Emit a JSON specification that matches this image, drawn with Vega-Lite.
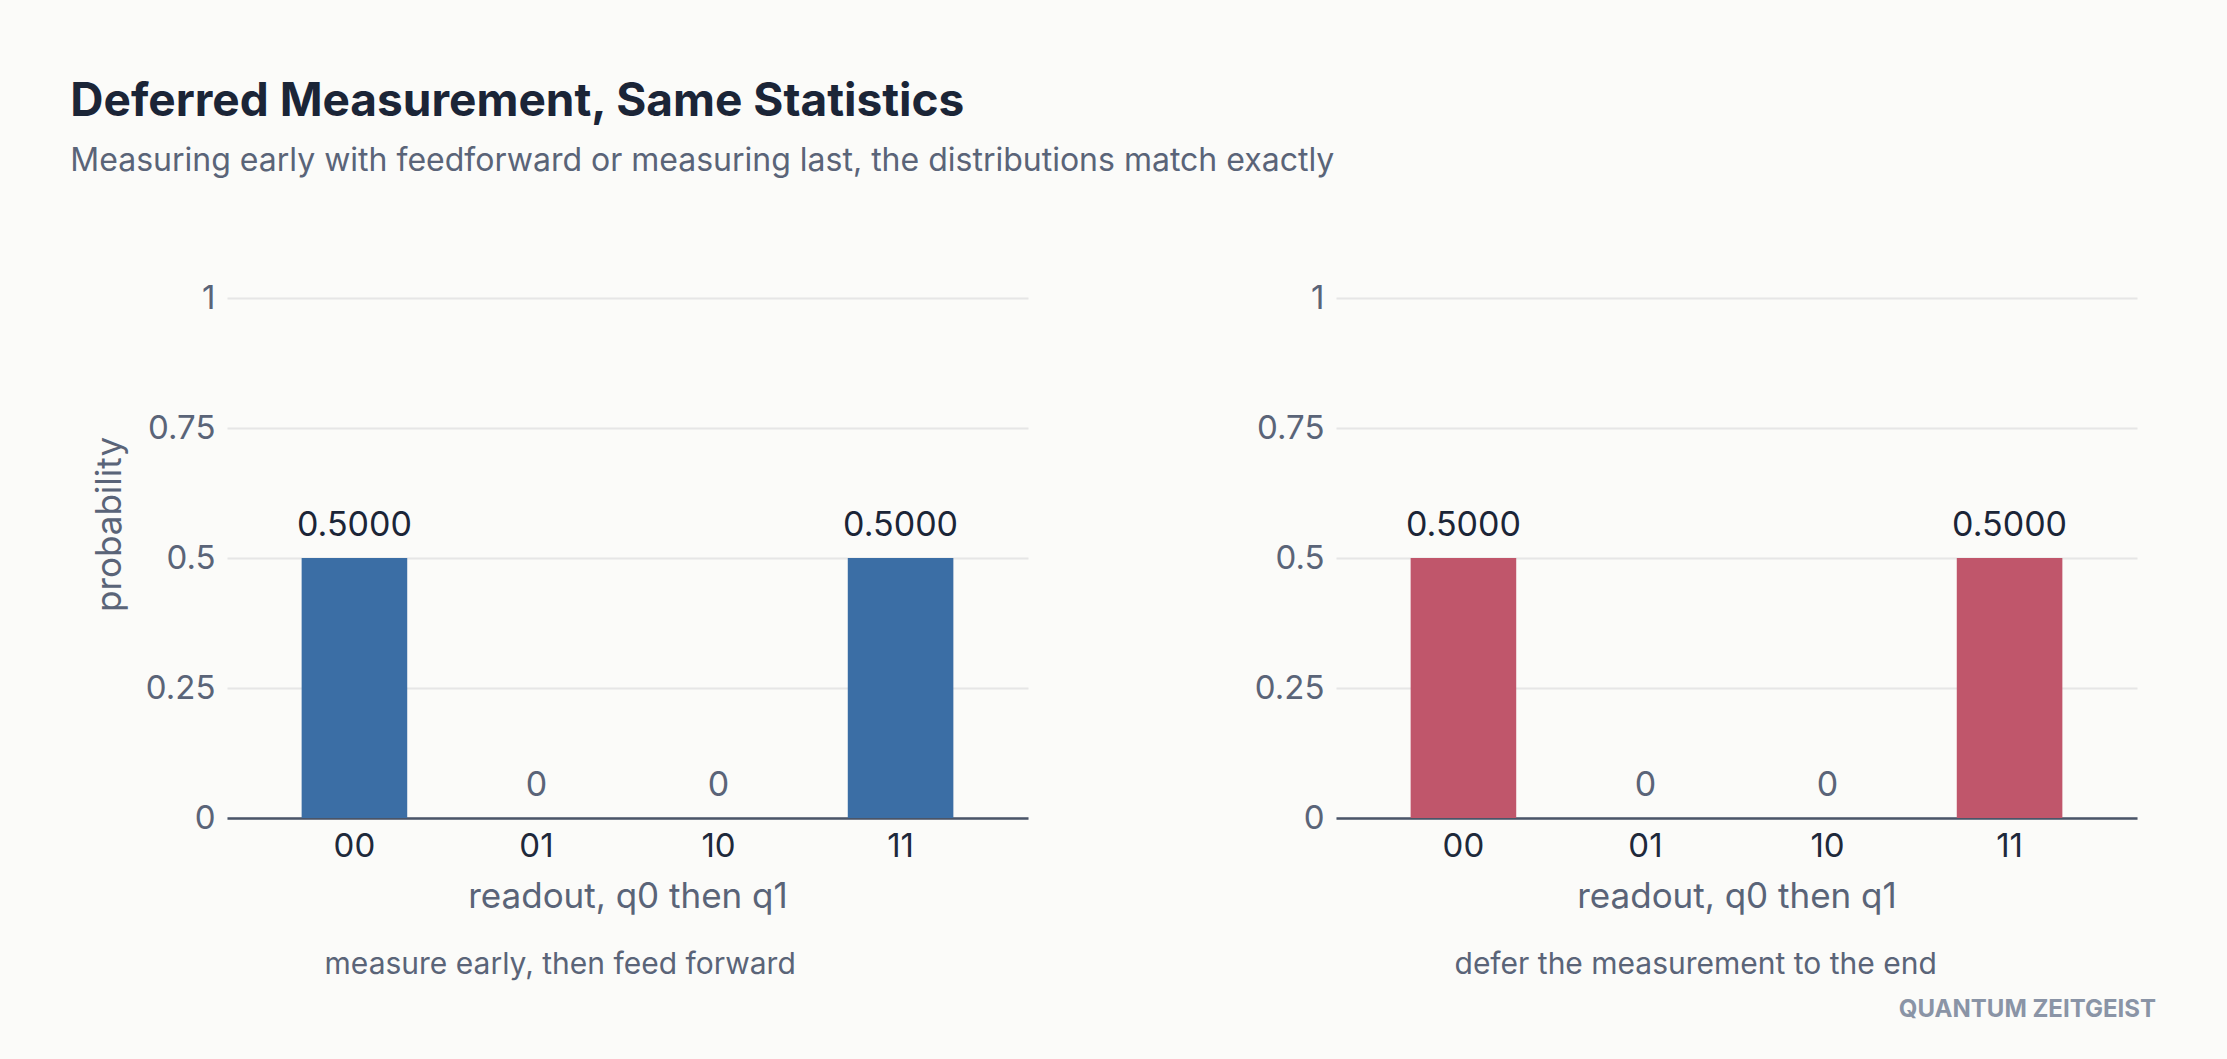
{
  "$schema": "https://vega.github.io/schema/vega-lite/v6.json",
  "background": "#fbfbf9",
  "padding": {"left": 70, "top": 79, "right": 90, "bottom": 45},
  "datasets": {
    "probs": [
      {"method": "early", "state": "00", "p": 0.5},
      {"method": "early", "state": "01", "p": 0},
      {"method": "early", "state": "10", "p": 0},
      {"method": "early", "state": "11", "p": 0.5},
      {"method": "deferred", "state": "00", "p": 0.5},
      {"method": "deferred", "state": "01", "p": 0},
      {"method": "deferred", "state": "10", "p": 0},
      {"method": "deferred", "state": "11", "p": 0.5}
    ],
    "footer": [{"label": "QUANTUM ZEITGEIST"}]
  },
  "title": {
    "text": "Deferred Measurement, Same Statistics",
    "subtitle": "Measuring early with feedforward or measuring last, the distributions match exactly",
    "anchor": "start",
    "font": "Inter",
    "fontSize": 46,
    "fontWeight": 700,
    "color": "#1b2537",
    "subtitleFont": "Inter",
    "subtitleFontSize": 32,
    "subtitleColor": "#5a6478",
    "subtitlePadding": 20,
    "offset": 104,
    "dx": -22
  },
  "config": {
    "view": {"stroke": null},
    "font": "Inter",
    "axis": {
      "labelFont": "Inter",
      "titleFont": "Inter",
      "labelFontSize": 33,
      "titleFontSize": 35,
      "titleFontWeight": 400,
      "titleColor": "#5a6478",
      "ticks": false,
      "tickSize": 0
    },
    "axisX": {
      "domain": true,
      "domainColor": "#4a5568",
      "domainWidth": 2.5,
      "grid": false,
      "labelColor": "#1e293b",
      "labelPadding": 12,
      "titlePadding": 16,
      "labelAngle": 0
    },
    "axisY": {
      "domain": false,
      "grid": true,
      "gridColor": "#e6e6e6",
      "gridWidth": 2,
      "labelColor": "#5a6478",
      "labelPadding": 12,
      "titlePadding": 18
    }
  },
  "vconcat": [
    {
      "hconcat": [
        {
          "width": 801,
          "height": 520,
          "title": {
            "text": "measure early, then feed forward",
            "orient": "bottom",
            "anchor": "middle",
            "frame": "bounds",
            "font": "Inter",
            "fontSize": 30,
            "fontWeight": 400,
            "color": "#5a6478",
            "offset": 36
          },
          "data": {"name": "probs"},
          "transform": [{"filter": "datum.method == 'early'"}],
          "encoding": {
            "x": {
              "field": "state",
              "type": "nominal",
              "sort": ["00", "01", "10", "11"],
              "scale": {"paddingInner": 0.42, "paddingOuter": 0.41},
              "axis": {"title": "readout, q0 then q1"}
            },
            "y": {
              "field": "p",
              "type": "quantitative",
              "scale": {"domain": [0, 1], "nice": false},
              "axis": {"values": [0, 0.25, 0.5, 0.75, 1], "labelExpr": "format(datum.value, '~g')", "title": "probability", "titleY": 226}
            }
          },
          "layer": [
            {"mark": {"type": "bar", "color": "#3b6ea5"}},
            {
              "mark": {"type": "text", "baseline": "alphabetic", "dy": -22, "fontSize": 34, "font": "Inter"},
              "encoding": {
                "text": {"field": "p", "type": "quantitative", "format": ".4f", "condition": {"test": "datum.p == 0", "value": "0"}},
                "color": {"condition": {"test": "datum.p > 0", "value": "#1b2537"}, "value": "#5a6478"}
              }
            }
          ]
        },
        {
          "width": 801,
          "height": 520,
          "title": {
            "text": "defer the measurement to the end",
            "orient": "bottom",
            "anchor": "middle",
            "frame": "bounds",
            "font": "Inter",
            "fontSize": 30,
            "fontWeight": 400,
            "color": "#5a6478",
            "offset": 36
          },
          "data": {"name": "probs"},
          "transform": [{"filter": "datum.method == 'deferred'"}],
          "encoding": {
            "x": {
              "field": "state",
              "type": "nominal",
              "sort": ["00", "01", "10", "11"],
              "scale": {"paddingInner": 0.42, "paddingOuter": 0.41},
              "axis": {"title": "readout, q0 then q1"}
            },
            "y": {
              "field": "p",
              "type": "quantitative",
              "scale": {"domain": [0, 1], "nice": false},
              "axis": {"values": [0, 0.25, 0.5, 0.75, 1], "labelExpr": "format(datum.value, '~g')", "title": null}
            }
          },
          "layer": [
            {"mark": {"type": "bar", "color": "#c0566b"}},
            {
              "mark": {"type": "text", "baseline": "alphabetic", "dy": -22, "fontSize": 34, "font": "Inter"},
              "encoding": {
                "text": {"field": "p", "type": "quantitative", "format": ".4f", "condition": {"test": "datum.p == 0", "value": "0"}},
                "color": {"condition": {"test": "datum.p > 0", "value": "#1b2537"}, "value": "#5a6478"}
              }
            }
          ]
        }
      ],
      "spacing": 226
    },
    {
      "width": 1929,
      "height": 30,
      "data": {"name": "footer"},
      "mark": {"type": "text", "align": "right", "baseline": "alphabetic", "font": "Inter", "fontWeight": 700, "fontSize": 24, "color": "#8a94a6"},
      "encoding": {
        "text": {"field": "label", "type": "nominal"},
        "x": {"value": "width"},
        "y": {"value": "height"}
      }
    }
  ],
  "spacing": 7
}
